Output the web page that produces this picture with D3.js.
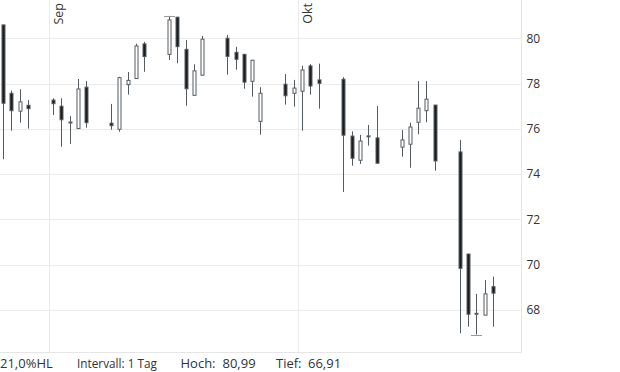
<!DOCTYPE html>
<html>
<head>
<meta charset="utf-8">
<script src="https://cdn.jsdelivr.net/npm/d3@7"></script>
<style>
  html, body { margin: 0; padding: 0; background: #fff; }
  svg { display: block; font-family: "Open Sans", "Noto Sans", sans-serif; }
</style>
</head>
<body>
<svg id="chart" width="620" height="372"></svg>
<script>
// ---- data (2025, daily candles) ----
const dates = ["2025-08-26","2025-08-27","2025-08-28","2025-08-29",
  "2025-09-01","2025-09-02","2025-09-03","2025-09-04","2025-09-05",
  "2025-09-08","2025-09-09","2025-09-10","2025-09-11","2025-09-12",
  "2025-09-15","2025-09-16","2025-09-17","2025-09-18","2025-09-19",
  "2025-09-22","2025-09-23","2025-09-24","2025-09-25","2025-09-26",
  "2025-09-29","2025-09-30","2025-10-01","2025-10-02","2025-10-03",
  "2025-10-06","2025-10-07","2025-10-08","2025-10-09","2025-10-10",
  "2025-10-13","2025-10-14","2025-10-15","2025-10-16","2025-10-17",
  "2025-10-20","2025-10-21","2025-10-22","2025-10-23","2025-10-24"];
const open  = [80.59,77.57,76.78,77.04, 77.27,77.00,76.28,76.01,77.84, 76.25,75.98,77.95,78.22,79.75,
  79.29,80.93,79.51,77.48,78.37, 80.00,79.38,79.29,78.10,76.33, 77.97,77.57,77.66,78.78,78.16,
  78.19,75.68,74.61,75.66,75.60, 75.19,75.32,76.29,76.80,77.05, 74.98,70.47,67.83,67.77,69.03];
const high  = [80.59,77.69,77.75,77.27, 77.35,77.35,76.57,78.20,78.11, 77.10,78.30,78.51,79.76,79.84,
  80.99,80.95,79.92,78.85,80.10, 80.15,79.62,79.31,79.04,77.84, 78.42,78.16,78.79,78.86,78.88,
  78.28,75.89,75.73,76.17,77.01, 75.95,76.27,78.11,78.11,77.05, 75.51,70.47,68.71,69.32,69.47];
const low   = [74.66,75.92,76.27,76.01, 76.61,75.21,75.33,75.99,76.05, 75.96,75.87,77.51,78.20,78.52,
  79.04,78.90,77.02,77.46,78.35, 78.39,78.61,77.77,77.42,75.74, 77.07,76.98,75.92,77.51,76.89,
  73.21,74.37,74.45,75.26,74.48, 74.77,74.28,75.76,76.29,74.15, 66.97,67.26,66.91,67.77,67.26];
const close = [77.13,76.80,77.19,76.89, 77.11,76.40,76.30,77.76,76.27, 76.14,78.26,78.14,79.66,79.19,
  80.81,79.63,77.77,78.56,79.96, 79.20,79.07,78.06,79.03,77.57, 77.46,77.80,78.60,77.89,78.01,
  75.72,74.70,75.46,75.69,74.48, 75.51,76.08,76.91,77.31,74.58, 69.84,67.81,67.85,68.71,68.74];
const monthTicks  = ["2025-09-01","2025-10-01"];
const monthLabels = ["Sep","Okt"];
const yTicks = [68,70,72,74,76,78,80];
const footerLabels = ["21,0%HL","Intervall: 1 Tag","Hoch:","80,99","Tief:","66,91"];

// ---- layout ----
const W = 521.5, H = 352.5;
const svg = d3.select("#chart");
const parse = s => new Date(s + "T00:00:00Z");
const candleTime = s => new Date(s + "T10:00:00Z");

const x = d3.scaleUtc()
  .domain([new Date(Date.UTC(2025,7,26,0,52)), new Date(Date.UTC(2025,9,27,20,50))])
  .range([0, W]);
const y = d3.scaleLinear().domain([66.12, 81.69]).range([H, 0]);

const data = dates.map((d,i) => ({t: candleTime(d), o: open[i], h: high[i], l: low[i], c: close[i]}));

const gridColor = "#ebebeb";
// horizontal gridlines
svg.append("g").selectAll("line").data(yTicks).join("line")
  .attr("x1", 0).attr("x2", W)
  .attr("y1", d => Math.round(y(d)) + 0.5).attr("y2", d => Math.round(y(d)) + 0.5)
  .attr("stroke", gridColor).attr("stroke-width", 1);
// vertical month gridlines
svg.append("g").selectAll("line").data(monthTicks).join("line")
  .attr("x1", d => Math.round(x(parse(d))) + 0.5).attr("x2", d => Math.round(x(parse(d))) + 0.5)
  .attr("y1", 0).attr("y2", H)
  .attr("stroke", gridColor).attr("stroke-width", 1);
// plot border (right and bottom)
svg.append("path")
  .attr("d", `M${W},0V${H}H0`)
  .attr("fill", "none").attr("stroke", "#e6e6e6").attr("stroke-width", 1);

// x axis labels (rotated month names)
const xAxis = d3.axisBottom(x)
  .tickValues(monthTicks.map(parse))
  .tickFormat((d,i) => monthLabels[i])
  .tickSize(0);
const gx = svg.append("g").call(xAxis);
gx.select(".domain").remove();
gx.selectAll("text")
  .attr("transform", "rotate(-90)")
  .attr("text-anchor", "end")
  .attr("x", -3).attr("y", 13.5).attr("dy", 0)
  .attr("fill", "#333").style("font-size", "12.5px").style("font-family", "'Open Sans', sans-serif");

// y axis labels on the right
const yAxis = d3.axisRight(y).tickValues(yTicks).tickFormat(d3.format("d")).tickSize(0).tickPadding(5);
const gy = svg.append("g").attr("transform", `translate(${W},0)`).call(yAxis);
gy.select(".domain").remove();
gy.selectAll("text").attr("fill", "#333").style("font-size", "12px").style("font-family", "'Open Sans', sans-serif");

// candles
const plot = svg.append("g");
const wickColor = "#555c61";
const cg = plot.selectAll("g.candle").data(data).join("g").attr("class", "candle");
cg.append("line")
  .attr("x1", d => Math.round(x(d.t)) + 0.5).attr("x2", d => Math.round(x(d.t)) + 0.5)
  .attr("y1", d => y(d.h)).attr("y2", d => y(d.l))
  .attr("stroke", wickColor).attr("stroke-width", 1);
cg.append("rect")
  .attr("x", d => Math.round(x(d.t)) - 1)
  .attr("width", 3)
  .attr("y", d => y(Math.max(d.o, d.c)))
  .attr("height", d => Math.max(1, Math.abs(y(d.o) - y(d.c))))
  .attr("fill", d => d.c < d.o ? "#1c1c1c" : "#ffffff")
  .attr("stroke", wickColor).attr("stroke-width", 1);

// high / low markers
const hiIdx = d3.maxIndex(high), loIdx = d3.minIndex(low);
const markers = [{t: data[hiIdx].t, v: high[hiIdx]}, {t: data[loIdx].t, v: low[loIdx]}];
plot.selectAll("line.marker").data(markers).join("line").attr("class", "marker")
  .attr("x1", d => Math.round(x(d.t)) - 5).attr("x2", d => Math.round(x(d.t)) + 6)
  .attr("y1", d => Math.round(y(d.v)) + 0.5).attr("y2", d => Math.round(y(d.v)) + 0.5)
  .attr("stroke", "#9a9a9a").attr("stroke-width", 1);

// footer
const footerX = [0, 77, 180.5, 222.5, 276, 308];
const footerW = [null, 80, null, null, null, null];
svg.append("g").selectAll("text").data(footerLabels).join("text")
  .attr("x", (d,i) => footerX[i]).attr("y", 368)
  .attr("fill", "#333").style("font-size", "13px")
  .each(function(d,i) {
    if (footerW[i]) d3.select(this).attr("textLength", footerW[i]).attr("lengthAdjust", "spacingAndGlyphs");
  })
  .text(d => d);
</script>
</body>
</html>
